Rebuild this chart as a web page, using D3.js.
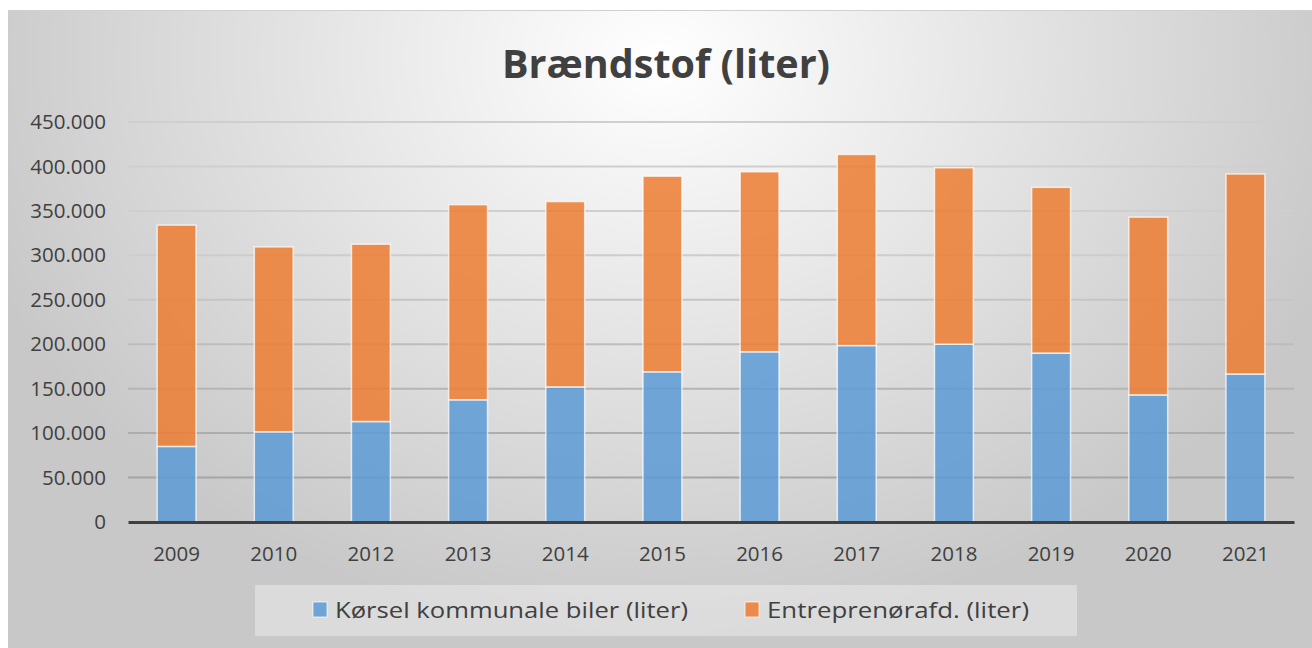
<!DOCTYPE html>
<html>
<head>
<meta charset="utf-8">
<script src="https://cdn.jsdelivr.net/npm/d3@7"></script>
<style>
  body { margin: 0; background: #fff; }
  text { font-family: "Open Sans", "Noto Sans", sans-serif; fill: #404040; }
</style>
</head>
<body>
<svg id="chart" width="1312" height="648"></svg>
<script>
const years = ['2009', '2010', '2012', '2013', '2014', '2015', '2016', '2017', '2018', '2019', '2020', '2021'];
const koersel = [85000, 101500, 113000, 137500, 152000, 169000, 191500, 198500, 200000, 190000, 143000, 166500];
const entreprenoer = [249000, 208000, 199500, 219500, 208500, 220000, 202500, 215000, 198500, 186500, 200000, 225000];
const seriesNames = ['Kørsel kommunale biler (liter)', 'Entreprenørafd. (liter)'];
const colors = ['#5b9bd5', '#ed7d31'];
const yTicks = [0, 50000, 100000, 150000, 200000, 250000, 300000, 350000, 400000, 450000];

const svg = d3.select('#chart');

// background with radial gradient like the office chart style
const defs = svg.append('defs');
const grad = defs.append('radialGradient')
    .attr('id', 'bg')
    .attr('gradientUnits', 'userSpaceOnUse')
    .attr('cx', 660).attr('cy', 60).attr('r', 720)
    .attr('gradientTransform', 'translate(660,60) scale(1,0.8) translate(-660,-60)');
grad.append('stop').attr('offset', '0%').attr('stop-color', '#ffffff');
grad.append('stop').attr('offset', '100%').attr('stop-color', '#c8c8c8');

const gridGrad = defs.append('linearGradient')
    .attr('id', 'gridfade')
    .attr('gradientUnits', 'userSpaceOnUse')
    .attr('x1', 0).attr('x2', 0).attr('y1', 120).attr('y2', 520);
gridGrad.append('stop').attr('offset', '0%').attr('stop-color', '#cfcfcf');
gridGrad.append('stop').attr('offset', '100%').attr('stop-color', '#888888');

svg.append('rect')
    .attr('x', 8).attr('y', 10)
    .attr('width', 1304).attr('height', 638)
    .attr('fill', 'url(#bg)');
svg.append('line')
    .attr('x1', 8).attr('x2', 1312).attr('y1', 10.5).attr('y2', 10.5)
    .attr('stroke', '#d0d0d0');

const margin = {top: 122, left: 128, right: 18, bottom: 126};
const width = 1312 - margin.left - margin.right;
const height = 648 - margin.top - margin.bottom;

const g = svg.append('g')
    .attr('transform', 'translate(' + margin.left + ',' + margin.top + ')');

const xScale = d3.scaleBand()
    .domain(years)
    .range([0, width])
    .paddingInner(0.6)
    .paddingOuter(0.3);

const yScale = d3.scaleLinear()
    .domain([0, 450000])
    .range([height, 0]);

const fmt = v => d3.format(',')(v).replace(/,/g, '.');

// gridlines
g.append('g')
    .selectAll('line')
    .data(yTicks.slice(1))
    .join('line')
    .attr('x1', 0).attr('x2', width)
    .attr('y1', d => yScale(d)).attr('y2', d => yScale(d))
    .attr('stroke', 'url(#gridfade)')
    .attr('stroke-width', 2);

// y axis labels
const yAxis = g.append('g')
    .call(d3.axisLeft(yScale).tickValues(yTicks).tickFormat(fmt).tickSize(0).tickPadding(22));
yAxis.select('.domain').remove();
yAxis.selectAll('text')
    .style('font-size', '20.5px')
    .attr('fill', '#404040');

// stacked bars
const rows = years.map((y, i) => ({year: y, a: koersel[i], b: entreprenoer[i]}));
const stack = d3.stack().keys(['a', 'b'])(rows);

g.append('g')
    .selectAll('g')
    .data(stack)
    .join('g')
    .attr('fill', (d, i) => colors[i])
    .attr('fill-opacity', 0.85)
    .selectAll('rect')
    .data(d => d)
    .join('rect')
    .attr('x', d => xScale(d.data.year))
    .attr('y', d => yScale(d[1]))
    .attr('width', xScale.bandwidth())
    .attr('height', d => yScale(d[0]) - yScale(d[1]))
    .attr('stroke', '#ffffff')
    .attr('stroke-opacity', 0.7)
    .attr('stroke-width', 1.5);

// x axis
const xAxis = g.append('g')
    .attr('transform', 'translate(0,' + height + ')')
    .call(d3.axisBottom(xScale).tickSize(0).tickPadding(24));
xAxis.select('.domain')
    .attr('stroke', '#404040')
    .attr('stroke-width', 3);
xAxis.selectAll('text')
    .style('font-size', '20.5px')
    .attr('fill', '#404040');

// title
svg.append('text')
    .attr('x', 666).attr('y', 78)
    .attr('text-anchor', 'middle')
    .style('font-size', '40px')
    .style('font-weight', 'bold')
    .attr('textLength', 328)
    .attr('lengthAdjust', 'spacingAndGlyphs')
    .text('Brændstof (liter)');

// legend
svg.append('rect')
    .attr('x', 255).attr('y', 585)
    .attr('width', 822).attr('height', 51)
    .attr('fill', '#ffffff')
    .attr('fill-opacity', 0.35);

const legendX = [313, 745];
const legendW = [353, 262];
const leg = svg.append('g')
    .selectAll('g')
    .data(seriesNames)
    .join('g')
    .attr('transform', (d, i) => 'translate(' + legendX[i] + ',602)');
leg.append('rect')
    .attr('width', 14).attr('height', 15)
    .attr('fill', (d, i) => colors[i])
    .attr('fill-opacity', 0.85)
    .attr('stroke', '#ffffff')
    .attr('stroke-opacity', 0.7);
leg.append('text')
    .attr('x', 22).attr('y', 16)
    .style('font-size', '22px')
    .attr('textLength', (d, i) => legendW[i])
    .attr('lengthAdjust', 'spacingAndGlyphs')
    .text(d => d);
</script>
</body>
</html>
